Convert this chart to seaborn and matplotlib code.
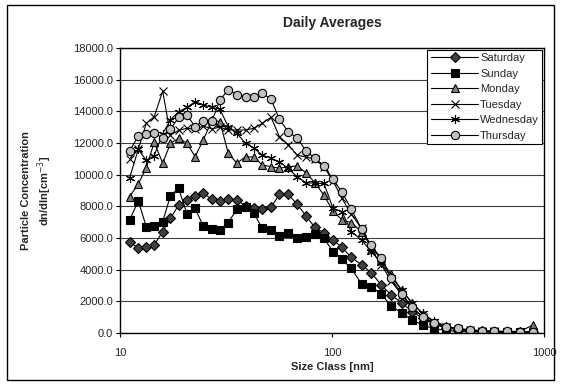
import numpy as np
import pandas as pd
import matplotlib
matplotlib.use("Agg")
import matplotlib.pyplot as plt
import seaborn as sns
from matplotlib.patches import Rectangle
from matplotlib.ticker import FixedLocator, FixedFormatter, NullLocator

# size classes [nm]
size_nm = [11.1, 12.2, 13.3, 14.5, 15.9, 17.3, 18.9, 20.7, 22.6, 24.7, 27.2, 29.6,
           32.4, 35.6, 39.1, 42.8, 46.9, 51.6, 56.5, 62.0, 68.4, 75.4, 83.0, 91.6,
           101.1, 111.5, 123.2, 138, 153, 171, 190, 213, 239, 268, 302, 344, 392,
           446, 509, 580, 667, 769, 886]

saturday = [5770, 5350, 5450, 5560, 6400, 7240, 8080, 8400, 8650, 8820,
            8440, 8360, 8440, 8400, 8020, 7880, 7810, 7940, 8760, 8760,
            8150, 7390, 6670, 6330, 5870, 5410, 4780, 4300, 3810, 3030,
            2400, 1910, 1350, 930, 550, 330, 200, 150, 110, 90, 70, 60, 60]
sunday = [7140, 8340, 6720, 6760, 7030, 8670, 9140, 7520, 7870, 6760,
          6570, 6500, 6970, 7830, 7980, 7560, 6610, 6500, 6130, 6300,
          5980, 6040, 6250, 5980, 5140, 4650, 4080, 3100, 2930, 2460,
          1700, 1280, 820, 500, 280, 160, 100, 80, 60, 50, 40, 40, 30]
monday = [8610, 9420, 10430, 12050, 10720, 11980, 12300, 11980, 11140, 12190,
          13450, 13350, 11350, 10720, 11140, 11100, 10610, 10500, 10400, 10500,
          10550, 10120, 9500, 8700, 7700, 7140, 6970, 6400, 5500, 4600,
          3700, 2700, 1900, 1200, 700, 400, 250, 150, 120, 100, 90, 100, 500]
tuesday = [11000, 11600, 13240, 13660, 15280, 12500, 12800, 12930, 12860, 13070,
           12900, 13000, 12820, 12820, 12820, 12930, 13240, 13620, 12400, 11900,
           11250, 11100, 11000, 10500, 9600, 8500, 7500, 6600, 5300, 4300,
           3300, 2400, 1600, 1000, 600, 380, 230, 160, 120, 100, 90, 80, 80]
wednesday = [9800, 11600, 10900, 11200, 12600, 13450, 13980, 14250, 14610, 14400,
             14250, 14130, 13030, 12610, 11980, 11670, 11240, 11030, 10820, 10400,
             9870, 9500, 9450, 9450, 7880, 7660, 6400, 5870, 5140, 4400,
             3560, 2720, 1870, 1240, 750, 450, 250, 160, 120, 100, 80, 70, 60]
thursday = [11500, 12450, 12580, 12650, 12300, 12870, 13620, 13770, 13030, 13410,
            13410, 14720, 15350, 15050, 14920, 14920, 15150, 14760, 13500, 12720,
            12330, 11500, 11030, 10570, 9700, 8900, 7830, 6550, 5530, 4720,
            3450, 2460, 1640, 1010, 650, 380, 290, 200, 150, 120, 100, 90, 80]

days = ["Saturday", "Sunday", "Monday", "Tuesday", "Wednesday", "Thursday"]
values = [saturday, sunday, monday, tuesday, wednesday, thursday]

df = pd.DataFrame({"Size": size_nm * len(days),
                   "Day": np.repeat(days, len(size_nm)),
                   "Conc": np.concatenate(values)})

# marker style per day: (marker, face colour, size)
styles = {
    "Saturday": ("D", "#404040", 5),
    "Sunday": ("s", "black", 5.5),
    "Monday": ("^", "#808080", 6),
    "Tuesday": ("x", "none", 6),
    "Wednesday": ((6, 2, 0), "none", 6.5),
    "Thursday": ("o", "#c0c0c0", 6),
}

sns.set_style("white")
plt.rcParams['font.family'] = ['Liberation Sans', 'DejaVu Sans']

fig = plt.figure(figsize=(5.61, 3.85), dpi=100)
ax = fig.add_axes([0.2139, 0.1351, 0.7558, 0.7402])

for day in days:
    mk, fc, ms = styles[day]
    sns.lineplot(data=df[df["Day"] == day], x="Size", y="Conc", ax=ax,
                 color="black", linewidth=0.8, marker=mk, markersize=ms,
                 markerfacecolor=fc, markeredgecolor="black",
                 markeredgewidth=0.8, label=day, legend=False)

ax.set_xscale("log")
ax.set_xlim(10, 1000)
ax.set_ylim(0, 18000)
ax.xaxis.set_major_locator(FixedLocator([10, 100, 1000]))
ax.xaxis.set_major_formatter(FixedFormatter(["10", "100", "1000"]))
ax.xaxis.set_minor_locator(NullLocator())
ax.set_yticks(np.arange(0, 18001, 2000))
ax.set_yticklabels([f"{v:.1f}" for v in np.arange(0, 18001, 2000)])
ax.tick_params(axis="both", labelsize=8, direction="out", length=3,
               width=0.8, color="black", pad=2, bottom=True, left=True)
ax.tick_params(axis="x", pad=8)

ax.grid(axis="y", color="#404040", linewidth=0.8)
ax.grid(axis="x", visible=False)
for side in ["left", "bottom", "top", "right"]:
    ax.spines[side].set_color("black")
    ax.spines[side].set_linewidth(1.0)

ax.set_title("Daily Averages", fontsize=10, fontweight="bold", pad=15)
ax.set_xlabel("Size Class [nm]", fontsize=8, fontweight="bold", labelpad=3)
ax.set_ylabel("Particle Concentration\ndn/dln[cm$^{-3}$]", fontsize=8,
              fontweight="bold", labelpad=14, linespacing=1.3)

leg = ax.legend(loc="upper right", fontsize=8, frameon=True, fancybox=False,
                edgecolor="black", framealpha=1, borderpad=0.3,
                labelspacing=0.5, handlelength=4.3, handletextpad=0.15,
                borderaxespad=0.15)
leg.get_frame().set_linewidth(0.8)

fig.patches.append(Rectangle((0.012, 0.012), 0.976, 0.976, transform=fig.transFigure,
                             fill=False, edgecolor="black", linewidth=1.0))

fig.savefig("out.png", dpi=100)
